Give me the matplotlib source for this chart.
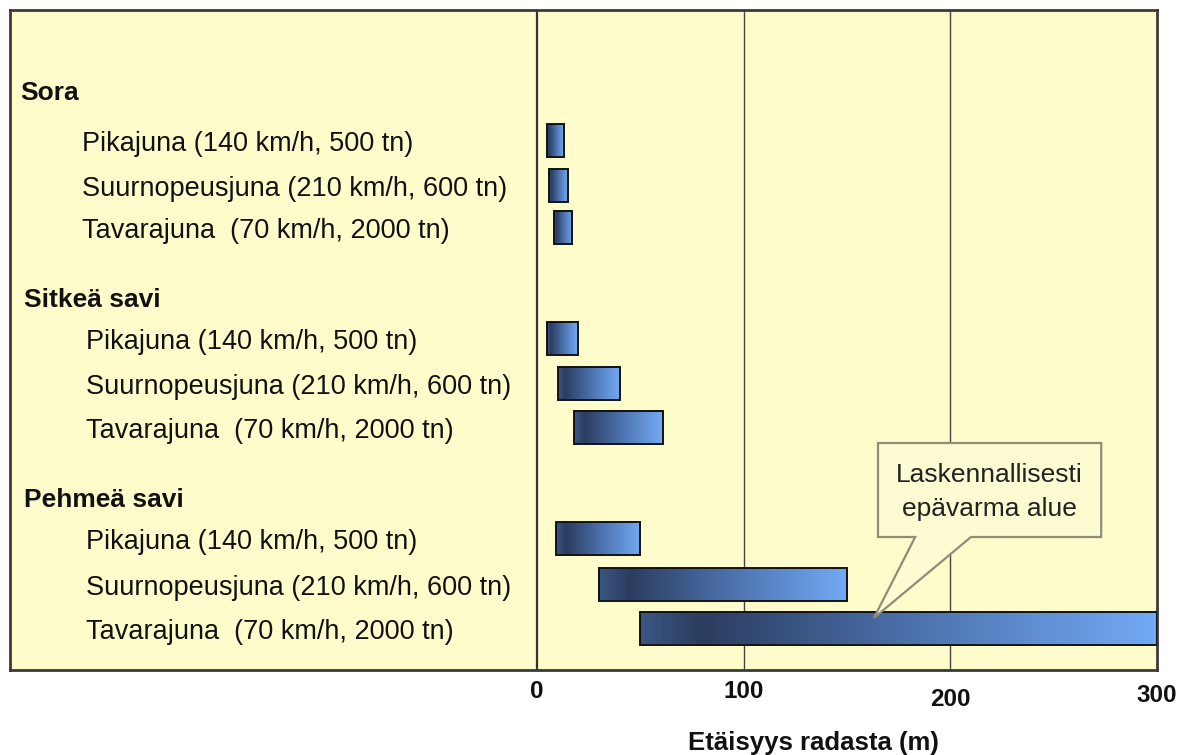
import numpy as np
import matplotlib
matplotlib.use('Agg')
import matplotlib.pyplot as plt
from matplotlib.patches import Rectangle, Polygon
from matplotlib.colors import LinearSegmentedColormap
import matplotlib.transforms as mtransforms

plt.rcParams['font.family'] = ['Liberation Sans', 'DejaVu Sans']

# soil types and train types
groups = ['Sora', 'Sitkeä savi', 'Pehmeä savi']
trains = ['Pikajuna (140 km/h, 500 tn)',
          'Suurnopeusjuna (210 km/h, 600 tn)',
          'Tavarajuna  (70 km/h, 2000 tn)']

# vibration zone start / end distance from track (m)
zone_start = [[5, 6, 8], [5, 10, 18], [9, 30, 50]]
zone_end = [[13, 15, 17], [20, 40, 61], [50, 150, 300]]

xticks = [0, 100, 200, 300]
xlabel = 'Etäisyys radasta (m)'
note = 'Laskennallisesti\nepävarma alue'

# layout (vertical units are ~pixels, top = 10)
header_y = [90, 297, 497]
row_y = [[140, 185, 227], [338, 383, 427], [538, 584, 628]]
bar_h = 33
header_x = [-250, -248, -248]
label_x = [-220, -218, -218]

bg = '#fffccc'
cmap = LinearSegmentedColormap.from_list(
    'bar', [(0, '#3b5683'), (0.12, '#2b3d60'), (0.55, '#4e74b0'), (1, '#72aaf5')])

fig = plt.figure(figsize=(11.97, 7.55), dpi=100)
ax = fig.add_axes([10 / 1197, 1 - 670 / 755, 1147 / 1197, 660 / 755])
ax.set_facecolor(bg)

# vertical reference lines
ax.axvline(0, color='#333333', lw=1.6, zorder=1)
for xv in xticks[1:-1]:
    ax.axvline(xv, color='#444444', lw=1.0, zorder=1)

grad = np.linspace(0, 1, 256).reshape(1, -1)
for g in range(len(groups)):
    ax.text(header_x[g], header_y[g] + 3, groups[g], fontsize=19, fontweight='bold',
            va='center', ha='left', color='#111111')
    for i in range(len(trains)):
        y = row_y[g][i]
        ax.text(label_x[g], y + 4, trains[i], fontsize=19.5, va='center', ha='left',
                color='#111111')
        x0, x1 = zone_start[g][i], zone_end[g][i]
        im = ax.imshow(grad, cmap=cmap, aspect='auto', zorder=3,
                       extent=[x0, x1, y + bar_h / 2, y - bar_h / 2])
        rect = Rectangle((x0, y - bar_h / 2), x1 - x0, bar_h, fill=False,
                         ec='#111111', lw=1.4, zorder=4)
        ax.add_patch(rect)
        im.set_clip_path(rect)

# callout box with pointer
callout = Polygon([(165, 443), (273, 443), (273, 537), (210, 537), (163, 618),
                   (183, 537), (165, 537)], closed=True, fc='#fdfbd2',
                  ec='#8e8e78', lw=1.6, zorder=5)
ax.add_patch(callout)
ax.text(219, 492, note, fontsize=19, ha='center', va='center', color='#222222',
        linespacing=1.5, zorder=6)

ax.set_xlim(-255, 300)
ax.set_ylim(670, 10)
ax.set_xticks([])
ax.set_yticks([])
for s in ax.spines.values():
    s.set_color('#3a3a3a')
    s.set_linewidth(2)

# tick labels sit at slightly uneven heights
tick_off = [22, 22, 30, 26]
trans = mtransforms.blended_transform_factory(ax.transData, ax.transAxes)
for xv, off in zip(xticks, tick_off):
    ax.text(xv, -off / 660, str(xv), transform=trans, fontsize=17.5,
            fontweight='bold', ha='center', va='center', color='#111111')
ax.text(134, -73 / 660, xlabel, transform=trans, fontsize=18.5, fontweight='bold',
        ha='center', va='center', color='#111111')

fig.savefig('out.png', dpi=100, facecolor='white')
